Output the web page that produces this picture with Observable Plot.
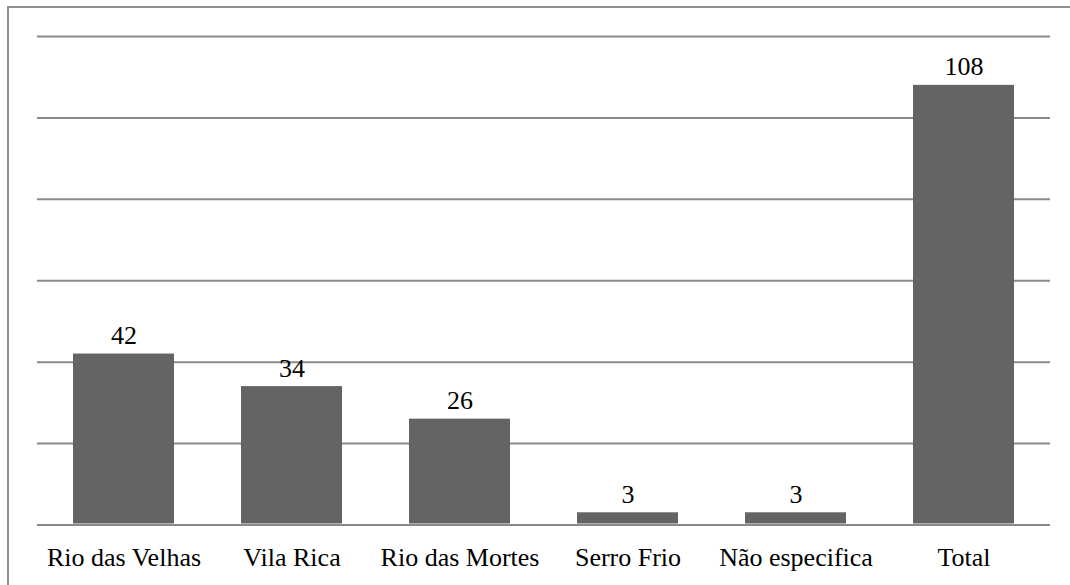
<!DOCTYPE html>
<html>
<head>
<meta charset="utf-8">
<script src="https://cdn.jsdelivr.net/npm/d3@7"></script>
<script src="https://cdn.jsdelivr.net/npm/@observablehq/plot@0.6"></script>
<style>
  html, body { margin: 0; padding: 0; background: #fff; }
  #wrap { position: relative; width: 1070px; height: 585px; overflow: hidden; }
  #frame { position: absolute; left: 7px; top: 6px; width: 1100px; height: 600px;
           border-left: 2px solid #8f8f8f; border-top: 2px solid #8f8f8f; box-sizing: border-box; }
  #chart { position: absolute; left: 0; top: 0; }
  #chart svg, #chart svg text { font-family: "Liberation Serif", "Times New Roman", serif !important; }
</style>
</head>
<body>
<div id="wrap"><div id="frame"></div><div id="chart"></div></div>
<script>
const categories = ["Rio das Velhas", "Vila Rica", "Rio das Mortes", "Serro Frio", "Não especifica", "Total"];
const values = [42, 34, 26, 3, 3, 108];
const gridTicks = [0, 20, 40, 60, 80, 100, 120];

const data = categories.map((c, i) => ({category: c, value: values[i]}));
const FONT = "Liberation Serif";

const chart = Plot.plot({
  width: 1070,
  height: 585,
  marginLeft: 37,
  marginRight: 20,
  marginTop: 36,
  marginBottom: 60.5,
  style: "font-family: 'Liberation Serif', serif; font-size: 26px; color: #000; background: transparent;",
  x: {domain: categories, paddingInner: 0.4, paddingOuter: 0.2, label: null},
  y: {domain: [0, 120], axis: null},
  marks: [
    Plot.ruleY(gridTicks, {stroke: "#8a8a8a", strokeWidth: 2, strokeOpacity: 1}),
    Plot.barY(data, {x: "category", y: "value", fill: "#646464", insetBottom: 1}),
    Plot.text(data, {x: "category", y: "value", text: d => String(d.value), dy: -10, lineAnchor: "bottom", fontSize: 26, fontFamily: FONT, fill: "#000"}),
    Plot.axisX({tickSize: 0, tickPadding: 23, fontSize: 26, fontFamily: FONT, label: null, fill: "#000"})
  ]
});
document.getElementById("chart").appendChild(chart);
</script>
</body>
</html>
